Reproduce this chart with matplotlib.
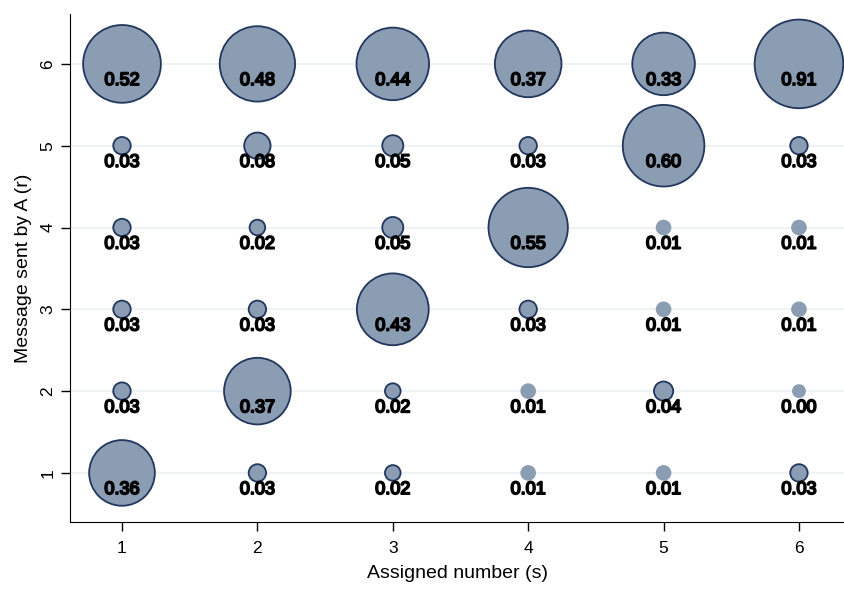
import numpy as np
import matplotlib
matplotlib.use("Agg")
import matplotlib.pyplot as plt
import matplotlib.patheffects as pe

plt.rcParams['font.family'] = ['Liberation Sans', 'DejaVu Sans']

# assigned number s (columns) and message r (rows)
s_vals = [1, 2, 3, 4, 5, 6]
r_vals = [1, 2, 3, 4, 5, 6]

# share of messages r for each s, one list per row r
r1 = [0.36, 0.03, 0.02, 0.01, 0.01, 0.03]
r2 = [0.03, 0.37, 0.02, 0.01, 0.04, 0.00]
r3 = [0.03, 0.03, 0.43, 0.03, 0.01, 0.01]
r4 = [0.03, 0.02, 0.05, 0.55, 0.01, 0.01]
r5 = [0.03, 0.08, 0.05, 0.03, 0.60, 0.03]
r6 = [0.52, 0.48, 0.44, 0.37, 0.33, 0.91]
shares = np.array([r1, r2, r3, r4, r5, r6])

W, H = 845, 590
fig = plt.figure(figsize=(W / 100, H / 100), dpi=100)
ax = fig.add_axes([70 / W, (H - 522) / H, (W - 70) / W, (522 - 14) / H])

fill = '#8b9db2'
edge = '#22365e'

S, R = np.meshgrid(s_vals, r_vals)
v = shares.ravel()
rad_px = 6 + 39.5 * np.tanh(2.3 * v)
size = (2 * rad_px * 0.72) ** 2
edges = [edge if val >= 0.015 else fill for val in v]

for y in r_vals:
    ax.axhline(y, color='#eaf0f4', lw=1.2, zorder=0)

ax.scatter(S.ravel(), R.ravel(), s=size, facecolor=fill,
           edgecolor=edges, linewidth=1.3, zorder=2, clip_on=False)

for x, y, val in zip(S.ravel(), R.ravel(), v):
    ax.annotate(f"{val:.2f}", (x, y), xytext=(0, -12), textcoords='offset points',
                ha='center', va='center', fontsize=13, color='black', zorder=3,
                path_effects=[pe.withStroke(linewidth=1.3, foreground='black')])

ax.set_xlim(0.616, 6.34)
ax.set_ylim(0.40, 6.61)
ax.set_xticks(s_vals)
ax.set_yticks(r_vals)
ax.tick_params(axis='both', direction='out', length=6.5, width=1, labelsize=12.5)
ax.tick_params(axis='x', pad=7)
ax.tick_params(axis='y', pad=4)
for lab in ax.get_yticklabels():
    lab.set_rotation(90)
    lab.set_va('center')
ax.spines['top'].set_visible(False)
ax.spines['right'].set_visible(False)
ax.set_xlabel("Assigned number (s)", fontsize=14, labelpad=7)
ax.set_ylabel("Message sent by A (r)", fontsize=14, labelpad=6)

fig.savefig("out.png", dpi=100)
